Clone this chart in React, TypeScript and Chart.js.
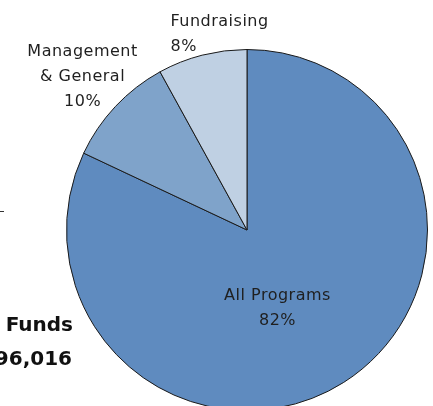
import React, { useEffect, useRef } from "react";
import { Chart, registerables } from "chart.js";

Chart.register(...registerables);

const categories = ["All Programs", "Management & General", "Fundraising"];
const values = [82, 10, 8];
const labelLines = [["All Programs", "82%"], ["Management", "& General", "10%"], ["Fundraising", "8%"]];
const sideTitle = "Funds";
const sideAmount = "96,016";

const colors = ["#5F8BBF", "#7FA3CA", "#BFD0E3"];
// label anchor positions as fractions of the pie radius from its centre
const labelLayout = [
  { fx: 0.169, fy: 0.388, align: "center" as CanvasTextAlign },
  { fx: -0.911, fy: -0.964, align: "center" as CanvasTextAlign },
  { fx: -0.424, fy: -1.13, align: "left" as CanvasTextAlign },
];

const labelPlugin = {
  id: "sliceLabels",
  afterDatasetsDraw(chart: any) {
    const ctx: CanvasRenderingContext2D = chart.ctx;
    const meta = chart.getDatasetMeta(0);
    ctx.save();
    ctx.fillStyle = "#1f1f1f";
    ctx.font = '16px "DejaVu Sans"';
    (ctx as any).letterSpacing = "0.5px";
    ctx.textBaseline = "alphabetic";
    meta.data.forEach((arc: any, i: number) => {
      const { x, y, outerRadius } = arc.getProps(["x", "y", "outerRadius"], true);
      const lay = labelLayout[i];
      const lx = x + lay.fx * outerRadius;
      let ly = y + lay.fy * outerRadius;
      ctx.textAlign = lay.align;
      labelLines[i].forEach((line) => {
        ctx.fillText(line, lx, ly);
        ly += 25;
      });
    });
    // side text from the surrounding slide
    (ctx as any).letterSpacing = "0px";
    ctx.fillStyle = "#111111";
    ctx.font = 'bold 20px "DejaVu Sans"';
    ctx.textAlign = "right";
    ctx.fillText(sideTitle, 73, 331);
    ctx.fillText(sideAmount, 72, 365);
    ctx.strokeStyle = "#333333";
    ctx.lineWidth = 1;
    ctx.beginPath();
    ctx.moveTo(0, 211.5);
    ctx.lineTo(4, 211.5);
    ctx.stroke();
    ctx.restore();
  },
};

export default function App() {
  const ref = useRef<HTMLCanvasElement>(null);
  useEffect(() => {
    if (!ref.current) return;
    const chart = new Chart(ref.current, {
      type: "pie",
      data: {
        labels: categories,
        datasets: [
          {
            data: values,
            backgroundColor: colors,
            borderColor: "#1a1a1a",
            borderWidth: 1,
            hoverOffset: 0,
            offset: 0,
          },
        ],
      },
      options: {
        animation: false,
        responsive: false,
        layout: { padding: { left: 66, top: 49, right: 5, bottom: 9 } },
        plugins: { legend: { display: false }, tooltip: { enabled: false } },
      },
      plugins: [labelPlugin],
    });
    return () => chart.destroy();
  }, []);
  return (
    <div style={{ position: "absolute", left: 0, top: 0, width: 433, height: 406, overflow: "hidden", background: "#fff" }}>
      <canvas ref={ref} width={433} height={420} style={{ display: "block" }} />
    </div>
  );
}
